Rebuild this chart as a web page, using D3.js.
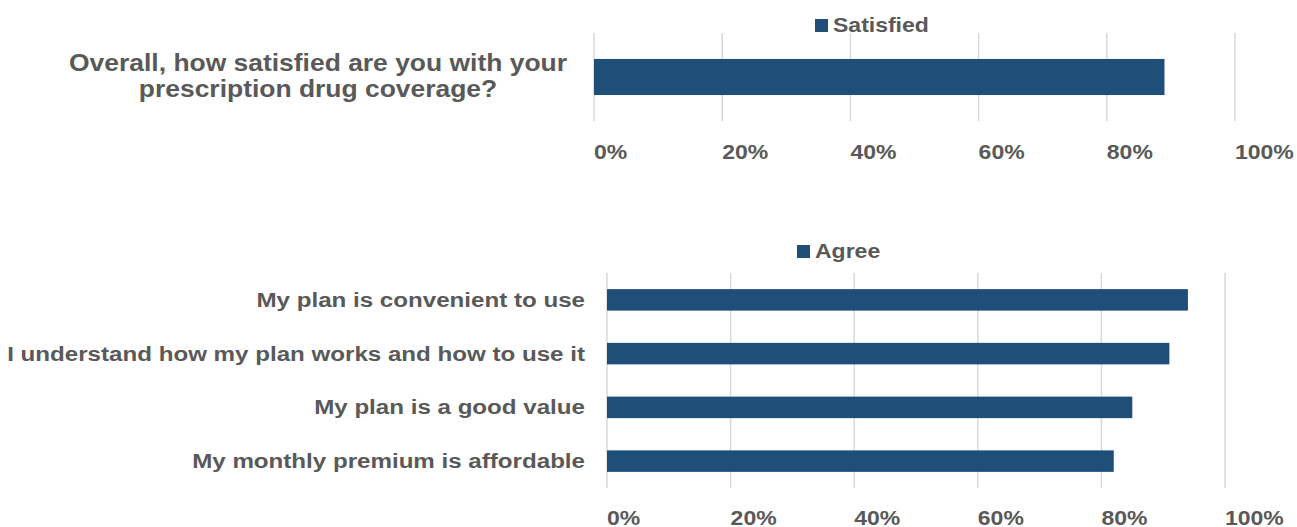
<!DOCTYPE html>
<html>
<head>
<meta charset="utf-8">
<script src="https://cdn.jsdelivr.net/npm/d3@7"></script>
<style>
  body { margin: 0; background: #fff; }
  text { font-family: "Liberation Sans", Arial, sans-serif; font-weight: bold; fill: #595959; }
</style>
</head>
<body>
<script>
// chart data
const satisfiedLabel = ["Overall, how satisfied are you with your", "prescription drug coverage?"];
const satisfiedValues = [0.89];
const agreeCategories = [
  "My plan is convenient to use",
  "I understand how my plan works and how to use it",
  "My plan is a good value",
  "My monthly premium is affordable"
];
const agreeValues = [0.94, 0.91, 0.85, 0.82];
const tickValues = [0, 0.2, 0.4, 0.6, 0.8, 1];

let width = 1297, height = 527;
let barColor = "#1F4E79";
let gridColor = "#D9D9D9";
let SX = 1.15; // text in the source is a bit wider than tall

let svg = d3.select("body").append("svg")
    .attr("width", width)
    .attr("height", height);

// places a text with its horizontal stretch
function putText(sel, x, y) {
  return sel.attr("transform", "translate(" + x + "," + y + ") scale(" + SX + ",1)");
}

let fmt = d3.format(".0%");

function drawPanel(opts) {
  let xScale = d3.scaleLinear().domain([0, 1]).range(opts.xRange);
  let yScale = d3.scaleBand()
      .domain(opts.categories)
      .range(opts.yRange)
      .paddingInner(opts.pad)
      .paddingOuter(opts.pad / 2);

  let g = svg.append("g");

  // gridlines
  g.selectAll(".grid")
    .data(tickValues)
    .enter()
    .append("line")
      .attr("x1", d => xScale(d))
      .attr("x2", d => xScale(d))
      .attr("y1", opts.yRange[0])
      .attr("y2", opts.yRange[1])
      .attr("stroke", gridColor)
      .attr("stroke-width", 1.5);

  // tick labels
  g.selectAll(".tick-label")
    .data(tickValues)
    .enter()
    .append("text")
      .attr("font-size", 20)
      .attr("text-anchor", "start")
      .each(function(d) { putText(d3.select(this), xScale(d), opts.tickY); })
      .text(d => fmt(d));

  // bars
  g.selectAll(".bar")
    .data(opts.values)
    .enter()
    .append("rect")
      .attr("x", xScale(0))
      .attr("y", (d, i) => yScale(opts.categories[i]))
      .attr("width", d => xScale(d) - xScale(0))
      .attr("height", yScale.bandwidth())
      .attr("fill", barColor);

  // legend
  g.append("rect")
      .attr("x", opts.legendX)
      .attr("y", opts.legendY - 13)
      .attr("width", 13)
      .attr("height", 13)
      .attr("fill", barColor);
  putText(g.append("text"), opts.legendX + 18, opts.legendY)
      .attr("font-size", 20)
      .text(opts.legend);

  return {xScale: xScale, yScale: yScale, g: g};
}

// top panel
let topPanel = drawPanel({
  categories: ["q"],
  values: satisfiedValues,
  xRange: [594, 1235],
  yRange: [33, 121],
  pad: 0.59,
  tickY: 159,
  legend: "Satisfied",
  legendX: 815,
  legendY: 32
});

satisfiedLabel.forEach(function(line, i) {
  putText(topPanel.g.append("text"), 318, 71 + i * 26)
      .attr("font-size", 23)
      .attr("text-anchor", "middle")
      .text(line);
});

// bottom panel
let bottomPanel = drawPanel({
  categories: agreeCategories,
  values: agreeValues,
  xRange: [607, 1225],
  yRange: [273, 488],
  pad: 0.6,
  tickY: 525,
  legend: "Agree",
  legendX: 797,
  legendY: 258
});

bottomPanel.g.selectAll(".cat")
  .data(agreeCategories)
  .enter()
  .append("text")
    .attr("font-size", 21)
    .attr("text-anchor", "end")
    .each(function(d) {
      putText(d3.select(this), 585, bottomPanel.yScale(d) + bottomPanel.yScale.bandwidth() / 2 + 7);
    })
    .text(d => d);
</script>
</body>
</html>
